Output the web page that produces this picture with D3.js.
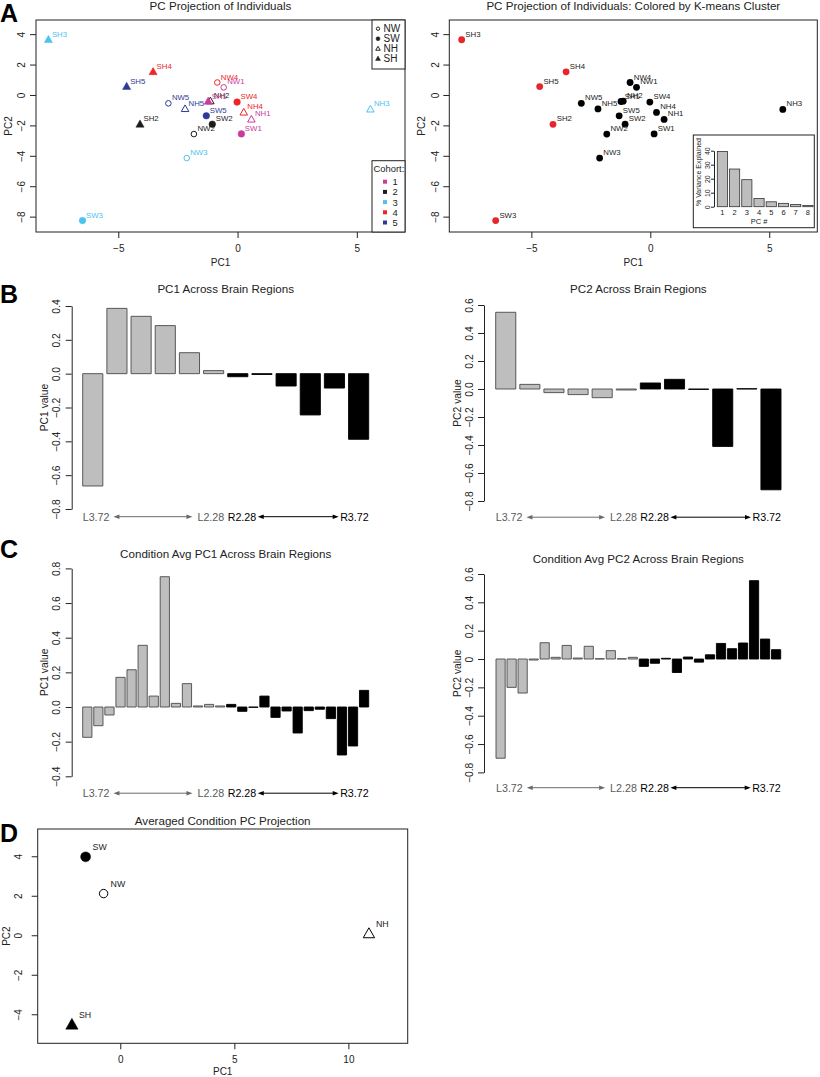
<!DOCTYPE html>
<html><head><meta charset="utf-8">
<script src="https://cdnjs.cloudflare.com/ajax/libs/d3/7.8.5/d3.min.js"></script>
<style>body{margin:0;background:#fff}</style>
</head><body><script>
// ---------------- DATA ----------------
const indNames = ["NW1","NW2","NW3","NW4","NW5","SW1","SW2","SW3","SW4","SW5","NH1","NH2","NH3","NH4","NH5","SH1","SH2","SH3","SH4","SH5"];
const indCondition = ["NW","NW","NW","NW","NW","SW","SW","SW","SW","SW","NH","NH","NH","NH","NH","SH","SH","SH","SH","SH"];
const indCohort = [1,2,3,4,5, 1,2,3,4,5, 1,2,3,4,5, 1,2,3,4,5];
const indPC1 = [-0.58,-1.83,-2.13,-0.85,-2.90, 0.16,-1.06,-6.50,-0.02,-1.31, 0.58,-1.14,5.57,0.26,-2.20, -1.23,-4.09,-7.93,-3.54,-4.65];
const indPC2 = [0.50,-2.57,-4.15,0.82,-0.55, -2.56,-1.92,-8.26,-0.47,-1.37, -1.61,-0.41,-0.95,-1.15,-0.92, -0.43,-1.93,3.63,1.52,0.55];
const kmeansCluster = [1,1,1,1,1, 1,1,2,1,1, 1,1,1,1,1, 1,2,2,2,2];
const conditions = ["NW","SW","NH","SH"];
const cohorts = [1,2,3,4,5];
const cohortColors = ["#CC3A9C","#1c1c1c","#4CC3EF","#EC2528","#2D3A96"];
const clusterColors = ["#000000","#E8252A"];

const pcNumbers = [1,2,3,4,5,6,7,8];
const varianceExplained = [39.5,26.9,19.3,5.9,3.5,2.4,1.6,0.9];

const regionPC1 = [-0.664,0.386,0.339,0.284,0.124,0.018,-0.018,-0.005,-0.073,-0.244,-0.085,-0.388];
const regionPC2 = [0.548,0.033,-0.026,-0.040,-0.062,-0.007,0.043,0.069,-0.003,-0.410,0.002,-0.720];
const condAvgPC1 = [-0.175,-0.108,-0.046,0.171,0.215,0.356,0.063,0.752,0.021,0.135,0.006,0.015,0.006,
                    0.015,-0.025,-0.002,0.063,-0.060,-0.023,-0.150,-0.021,-0.013,-0.067,-0.277,-0.225,0.096];
const condAvgPC2 = [-0.700,-0.200,-0.240,-0.007,0.115,0.012,0.096,0.007,0.090,0.002,0.059,0.002,0.012,
                    -0.052,-0.030,0.005,-0.095,0.014,-0.022,0.030,0.110,0.073,0.113,0.553,0.141,0.066];
const regionEndLabels = ["L3.72","L2.28","R2.28","R3.72"];

const condMeanNames = ["SW","NW","NH","SH"];
const condMeanPC1 = [-1.52,-0.73,10.9,-2.12];
const condMeanPC2 = [3.97,2.11,0.07,-4.54];

const ticksA_x = [-5,0,5];
const ticksA_y = [-8,-6,-4,-2,0,2,4];
const ticksD_x = [0,5,10];
const ticksD_y = [-4,-2,0,2,4];
const ticksB1 = [-0.8,-0.6,-0.4,-0.2,0,0.2,0.4];
const ticksB2 = [-0.8,-0.6,-0.4,-0.2,0,0.2,0.4,0.6];
const ticksC1 = [-0.4,-0.2,0,0.2,0.4,0.6,0.8];
const ticksC2 = [-0.8,-0.6,-0.4,-0.2,0,0.2,0.4,0.6];
const ticksInset = [0,10,20,30,40];

// ---------------- SETUP ----------------
const FONT = "'Liberation Sans', Arial, Helvetica, sans-serif";
const INK = "#222";
const svg = d3.select("body").append("svg").attr("width",820).attr("height",1077)
  .attr("font-family",FONT);
svg.append("rect").attr("width",820).attr("height",1077).attr("fill","#fff");

function styleAxis(a, fs){
  a.attr("font-family",FONT).attr("font-size",fs||10);
  a.selectAll("path,line").attr("stroke",INK).attr("stroke-width",1);
  a.selectAll("text").attr("fill",INK);
}
function rotateYLabels(a, offset){
  a.selectAll(".tick text").attr("transform","rotate(-90)").attr("x",0).attr("y",-offset)
   .attr("dy","0.35em").attr("text-anchor","middle");
}
function triPath(x,y,s){
  return `M${x},${y-4.4*s}L${x+4.1*s},${y+2.8*s}L${x-4.1*s},${y+2.8*s}Z`;
}
function drawPoint(g,x,y,cond,color,s){
  const filled = (cond==="SW"||cond==="SH");
  if(cond==="NW"||cond==="SW"){
    g.append("circle").attr("cx",x).attr("cy",y).attr("r",(filled?3.3:2.8)*s)
      .attr("fill",filled?color:"none").attr("stroke",color).attr("stroke-width",filled?0.5:1);
  } else {
    g.append("path").attr("d",triPath(x,y,filled?s:s*0.92))
      .attr("fill",filled?color:"none").attr("stroke",color).attr("stroke-width",filled?0.5:1);
  }
}
function letter(t,x,y){
  svg.append("text").attr("x",x).attr("y",y).text(t).attr("font-size",25).attr("font-weight","bold").attr("fill","#000");
}

function scatterFrame(c){
  const g = svg.append("g");
  const x = d3.scaleLinear().domain(c.xDomain).range([c.left,c.right]);
  const y = d3.scaleLinear().domain(c.yDomain).range([c.bottom,c.top]);
  const xa = g.append("g").attr("transform",`translate(0,${c.bottom})`)
    .call(d3.axisBottom(x).tickValues(c.xTicks).tickSize(6).tickSizeOuter(0).tickPadding(6.5).tickFormat(d3.format("d")));
  xa.select(".domain").remove();
  styleAxis(xa,10);
  const ya = g.append("g").attr("transform",`translate(${c.left},0)`)
    .call(d3.axisLeft(y).tickValues(c.yTicks).tickSize(6).tickSizeOuter(0).tickFormat(d3.format("d")));
  ya.select(".domain").remove();
  styleAxis(ya,10);
  rotateYLabels(ya,c.yTickOff);
  g.append("rect").attr("x",c.left).attr("y",c.top).attr("width",c.right-c.left).attr("height",c.bottom-c.top)
    .attr("fill","none").attr("stroke",INK).attr("stroke-width",1);
  g.append("text").attr("x",(c.left+c.right)/2).attr("y",c.titleY).attr("text-anchor","middle")
    .attr("font-size",11.6).attr("fill",INK).text(c.title);
  g.append("text").attr("x",(c.left+c.right)/2).attr("y",c.bottom+c.xLabOff).attr("text-anchor","middle")
    .attr("font-size",10).attr("fill",INK).text("PC1");
  g.append("text").attr("transform",`translate(${c.left-c.yLabOff},${(c.top+c.bottom)/2}) rotate(-90)`)
    .attr("dy","0.35em").attr("text-anchor","middle").attr("font-size",10).attr("fill",INK).text("PC2");
  return {g,x,y};
}

function arrow(g,xa,xb,y,color){
  g.append("line").attr("x1",xa+4).attr("x2",xb-4).attr("y1",y).attr("y2",y).attr("stroke",color).attr("stroke-width",1);
  g.append("path").attr("d",`M${xa},${y}L${xa+6},${y-2.3}L${xa+6},${y+2.3}Z`).attr("fill",color);
  g.append("path").attr("d",`M${xb},${y}L${xb-6},${y-2.3}L${xb-6},${y+2.3}Z`).attr("fill",color);
}

function regionRow(g,x0,x1,yBase){
  const mid=(x0+x1)/2, gray="#5a5a5a";
  const t1=g.append("text").attr("x",x0).attr("y",yBase).attr("fill",gray).text(regionEndLabels[0]);
  const t2=g.append("text").attr("x",mid-1.5).attr("y",yBase).attr("text-anchor","end").attr("fill",gray).text(regionEndLabels[1]);
  const t3=g.append("text").attr("x",mid+2).attr("y",yBase).attr("fill","#000").text(regionEndLabels[2]);
  const t4=g.append("text").attr("x",x1).attr("y",yBase).attr("text-anchor","end").attr("fill","#000").text(regionEndLabels[3]);
  [t1,t2,t3,t4].forEach(t=>t.attr("font-size",10.7));
  const w1=t1.node().getComputedTextLength(), w2=t2.node().getComputedTextLength();
  const w3=t3.node().getComputedTextLength(), w4=t4.node().getComputedTextLength();
  const ay=yBase-3.8;
  arrow(g,x0+w1+4,mid-1.5-w2-5,ay,"#6a6a6a");
  arrow(g,mid+2+w3+1.5,x1-w4-1.5,ay,"#000");
}

function barPanel(c){
  const g = svg.append("g");
  const n = c.values.length;
  const x = d3.scaleBand().domain(d3.range(n)).range([c.x0,c.x1]).paddingInner(1/6).paddingOuter(0);
  const y = d3.scaleLinear().domain(c.yDomain).range([c.yBottom,c.yTop]);
  const bw = x.bandwidth();
  g.selectAll("path.bar").data(c.values).join("path").attr("class","bar")
    .attr("d",(v,i)=>{const y0=y(0),y1=y(v);return `M${x(i)},${y0}H${x(i)+bw}V${y1}H${x(i)}Z`;})
    .attr("fill",(v,i)=> i<n/2 ? "#bebebe" : "#000")
    .attr("stroke",(v,i)=> i<n/2 ? "#4a4a4a" : "#000").attr("stroke-width",0.9);
  const ya = g.append("g").attr("transform",`translate(${c.axisX},0)`)
    .call(d3.axisLeft(y).tickValues(c.ticks).tickSize(6).tickSizeOuter(0).tickFormat(c.fmt));
  styleAxis(ya,10.3);
  rotateYLabels(ya,15);
  g.append("text").attr("x",(c.x0+c.x1)/2).attr("y",c.titleY).attr("text-anchor","middle")
    .attr("font-size",11.6).attr("fill",INK).text(c.title);
  g.append("text").attr("transform",`translate(${c.axisX-27},${(c.yTop+c.yBottom)/2}) rotate(-90)`)
    .attr("dy","0.35em").attr("text-anchor","middle").attr("font-size",10.3).attr("fill",INK).text(c.ylab);
  regionRow(g,c.x0,c.x1,c.rowY);
}

// ---------------- PANEL A (left) ----------------
letter("A",0,22);
{
  const {g,x,y} = scatterFrame({left:36,right:405,top:20,bottom:232,xDomain:[-8.45,7.02],yDomain:[-9.01,4.93],
    xTicks:ticksA_x,yTicks:ticksA_y,title:"PC Projection of Individuals",titleY:9.5,xLabOff:33.5,yLabOff:28,yTickOff:15});
  indNames.forEach((nm,i)=>{
    const col=cohortColors[indCohort[i]-1];
    drawPoint(g,x(indPC1[i]),y(indPC2[i]),indCondition[i],col,1);
  });
  indNames.forEach((nm,i)=>{
    const col=cohortColors[indCohort[i]-1];
    g.append("text").attr("x",x(indPC1[i])+3.5).attr("y",y(indPC2[i])-3).attr("font-size",7.8).attr("fill",col).text(nm);
  });
  // shape legend
  const lg = g.append("g");
  lg.append("rect").attr("x",372).attr("y",20).attr("width",33).attr("height",49).attr("fill","#fff").attr("stroke",INK);
  conditions.forEach((cd,i)=>{
    const yy=28.7+i*10;
    drawPoint(lg,378,yy,cd,INK,0.6);
    lg.append("text").attr("x",383.5).attr("y",yy+3.5).attr("font-size",10).attr("fill",INK).text(cd);
  });
  // cohort legend
  const cg = g.append("g");
  cg.append("rect").attr("x",372).attr("y",160.7).attr("width",33).attr("height",71.3).attr("fill","#fff").attr("stroke",INK);
  cg.append("text").attr("x",373.5).attr("y",172.3).attr("font-size",9.4).attr("fill",INK).text("Cohort:");
  cohorts.forEach((ch,i)=>{
    const yy=181.7+i*10.2;
    cg.append("rect").attr("x",383).attr("y",yy-2).attr("width",4).attr("height",4).attr("fill",cohortColors[i]);
    cg.append("text").attr("x",392.5).attr("y",yy+3.4).attr("font-size",9.4).attr("fill",INK).text(ch);
  });
}

// ---------------- PANEL A (right) ----------------
{
  const {g,x,y} = scatterFrame({left:449.3,right:817.3,top:20,bottom:232,xDomain:[-8.45,7.02],yDomain:[-9.01,4.93],
    xTicks:ticksA_x,yTicks:ticksA_y,title:"PC Projection of Individuals: Colored by K-means Cluster",titleY:9.5,xLabOff:33.5,yLabOff:28,yTickOff:14.3});
  indNames.forEach((nm,i)=>{
    g.append("circle").attr("cx",x(indPC1[i])).attr("cy",y(indPC2[i])).attr("r",3.4).attr("fill",clusterColors[kmeansCluster[i]-1]);
  });
  indNames.forEach((nm,i)=>{
    g.append("text").attr("x",x(indPC1[i])+3.7).attr("y",y(indPC2[i])-3).attr("font-size",7.8).attr("fill",INK).text(nm);
  });
  // inset scree plot
  const ig = g.append("g");
  ig.append("rect").attr("x",693.3).attr("y",135).attr("width",121).attr("height",92.7).attr("fill","#fff").attr("stroke",INK);
  const bx = d3.scaleBand().domain(pcNumbers).range([717.3,813]).paddingInner(1/6).paddingOuter(0);
  const by = d3.scaleLinear().domain([0,40]).range([206.7,150.7]);
  ig.selectAll("rect.vb").data(varianceExplained).join("rect").attr("class","vb")
    .attr("x",(v,i)=>bx(pcNumbers[i])).attr("width",bx.bandwidth())
    .attr("y",v=>by(v)).attr("height",v=>by(0)-by(v)).attr("fill","#bebebe").attr("stroke","#333").attr("stroke-width",0.8);
  const iya = ig.append("g").attr("transform","translate(714,0)")
    .call(d3.axisLeft(by).tickValues(ticksInset).tickSize(3).tickSizeOuter(0));
  styleAxis(iya,7);
  rotateYLabels(iya,6.3);
  pcNumbers.forEach(p=>{
    ig.append("text").attr("x",bx(p)+bx.bandwidth()/2).attr("y",215).attr("text-anchor","middle")
      .attr("font-size",7.5).attr("fill",INK).text(p);
  });
  ig.append("text").attr("x",759).attr("y",223.6).attr("text-anchor","middle").attr("font-size",7.5).attr("fill",INK).text("PC #");
  ig.append("text").attr("transform","translate(698.7,172) rotate(-90)").attr("dy","0.35em").attr("text-anchor","middle")
    .attr("font-size",7).attr("fill",INK).text("% Variance Explained");
}

// ---------------- PANEL B ----------------
letter("B",0,303);
const f1 = d3.format(".1f");
barPanel({values:regionPC1,x0:82.7,x1:368.7,yDomain:[-0.8,0.4],yBottom:509.0,yTop:306.0,ticks:ticksB1,fmt:f1,
  axisX:71.7,title:"PC1 Across Brain Regions",titleY:293.4,ylab:"PC1 value",rowY:520.5});
barPanel({values:regionPC2,x0:495.7,x1:781,yDomain:[-0.8,0.6],yBottom:501,yTop:305,ticks:ticksB2,fmt:f1,
  axisX:484,title:"PC2 Across Brain Regions",titleY:293.4,ylab:"PC2 value",rowY:521});

// ---------------- PANEL C ----------------
letter("C",0,558);
barPanel({values:condAvgPC1,x0:82.7,x1:368.7,yDomain:[-0.4,0.8],yBottom:776.3,yTop:568.4,ticks:ticksC1,fmt:f1,
  axisX:71.7,title:"Condition Avg PC1 Across Brain Regions",titleY:558,ylab:"PC1 value",rowY:797});
barPanel({values:condAvgPC2,x0:496,x1:780.7,yDomain:[-0.8,0.6],yBottom:772.4,yTop:574,ticks:ticksC2,fmt:v=>v===0?"0":f1(v),
  axisX:484,title:"Condition Avg PC2 Across Brain Regions",titleY:563.4,ylab:"PC2 value",rowY:791.5});

// ---------------- PANEL D ----------------
letter("D",0,841.5);
{
  const {g,x,y} = scatterFrame({left:37.7,right:407.7,top:829,bottom:1043.3,xDomain:[-3.62,12.6],yDomain:[-5.47,5.38],
    xTicks:ticksD_x,yTicks:ticksD_y,title:"Averaged Condition PC Projection",titleY:825,xLabOff:32,yLabOff:31,yTickOff:19});
  condMeanNames.forEach((nm,i)=>{
    drawPoint(g,x(condMeanPC1[i]),y(condMeanPC2[i]),nm,"#000",1.5);
    g.append("text").attr("x",x(condMeanPC1[i])+7).attr("y",y(condMeanPC2[i])-6.5).attr("font-size",8.8).attr("fill",INK).text(nm);
  });
}
</script></body></html>
